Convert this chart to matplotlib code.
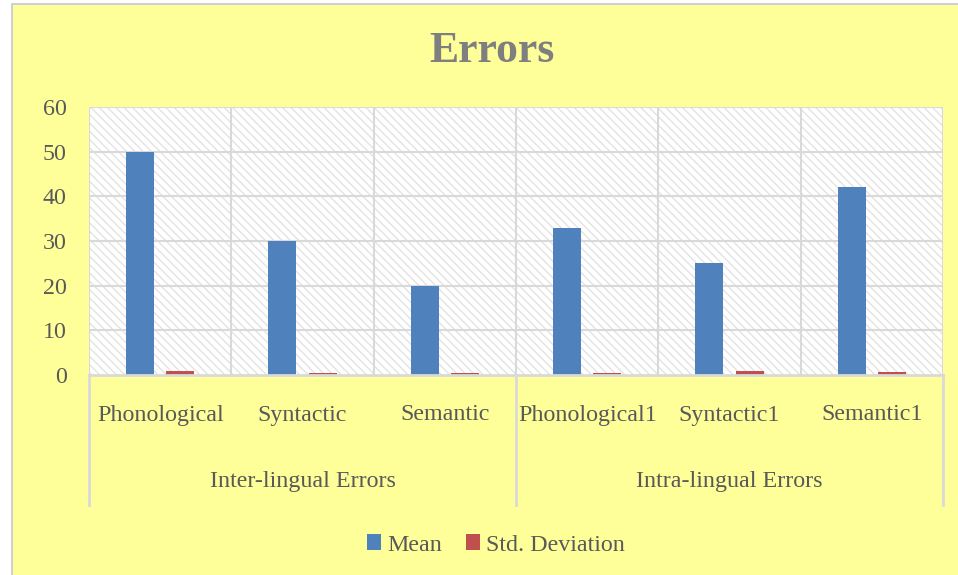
import matplotlib.pyplot as plt
import matplotlib.transforms as mtransforms
from matplotlib.patches import Rectangle, Patch
from matplotlib.lines import Line2D
import numpy as np

plt.rcParams['font.family'] = ['Liberation Serif', 'DejaVu Serif']
plt.rcParams['hatch.linewidth'] = 1.0

categories = ['Phonological', 'Syntactic', 'Semantic',
              'Phonological1', 'Syntactic1', 'Semantic1']
groups = ['Inter-lingual Errors', 'Intra-lingual Errors']
mean_values = [50, 30, 20, 33, 25, 42]
std_values = [1.0, 0.5, 0.5, 0.5, 0.8, 0.6]

BG = '#FFFF99'
GRID = '#D9D9D9'
TEXT = '#595959'
FS = 17.3

fig = plt.figure(figsize=(9.58, 5.75), dpi=100, facecolor='white')
W, H = 958, 575

# yellow chart area, thin gray border on left/top only
fig.patches.append(Rectangle((12 / W, 0), 1, 1 - 4 / H, transform=fig.transFigure,
                             facecolor=BG, edgecolor='none', zorder=-10))
fig.lines.append(Line2D([12 / W, 12 / W, 1], [0, 1 - 4 / H, 1 - 4 / H],
                        transform=fig.transFigure, color='#D0D0D0', lw=1.5))

ax = fig.add_axes([89 / W, 1 - 375 / H, (943 - 89) / W, (375 - 107) / H])
ax.set_facecolor('white')
ax.add_patch(Rectangle((0, 0), 1, 1, transform=ax.transAxes, facecolor='white',
                       edgecolor='#E3E3E3', hatch='\\\\\\\\', linewidth=0, zorder=0))

x = np.arange(len(categories))
bw = 0.197
ax.bar(x - 0.141, mean_values, bw, color='#4F81BD', zorder=3, label='Mean')
ax.bar(x + 0.141, std_values, bw, color='#C0504D', zorder=3, label='Std. Deviation')

ax.set_xlim(-0.5, len(categories) - 0.5)
ax.set_ylim(0, 60)
ax.set_yticks(range(0, 61, 10))
for yv in range(10, 61, 10):
    ax.axhline(yv, color=GRID, lw=1.5, zorder=1)
for xv in np.arange(-0.5, len(categories), 1.0):
    ax.axvline(xv, color=GRID, lw=1.5, zorder=1)

for s in ax.spines.values():
    s.set_visible(False)
ax.axhline(0, color=GRID, lw=2, zorder=4, clip_on=False)

ax.set_xticks([])
ax.tick_params(axis='y', length=0, pad=16, labelsize=FS, labelcolor=TEXT)

trans = mtransforms.blended_transform_factory(ax.transData, ax.transAxes)
for xi, c in zip(x, categories):
    ax.text(xi, -40 / 268, c, transform=trans, ha='center', va='center',
            fontsize=FS, color=TEXT)
for gi, g in enumerate(groups):
    ax.text(gi * 3 + 1, -106 / 268, g, transform=trans, ha='center', va='center',
            fontsize=FS, color=TEXT)
for xv in [-0.5, 2.5, 5.5]:
    ax.plot([xv, xv], [0, -130 / 268], transform=trans, color=GRID, lw=2, clip_on=False)

fig.text(492 / W, 1 - 51 / H, 'Errors', ha='center', va='center', fontsize=31.5,
         fontweight='bold', color='#7F7F7F')

handles = [Patch(facecolor='#4F81BD', label='Mean'),
           Patch(facecolor='#C0504D', label='Std. Deviation')]
fig.legend(handles=handles, loc='center', bbox_to_anchor=(496 / W, 1 - 545 / H),
           ncol=2, frameon=False, fontsize=FS, labelcolor=TEXT,
           handlelength=0.6, handleheight=0.6, handletextpad=0.25, columnspacing=1.0)

fig.savefig('out.png', dpi=100, facecolor=fig.get_facecolor())
